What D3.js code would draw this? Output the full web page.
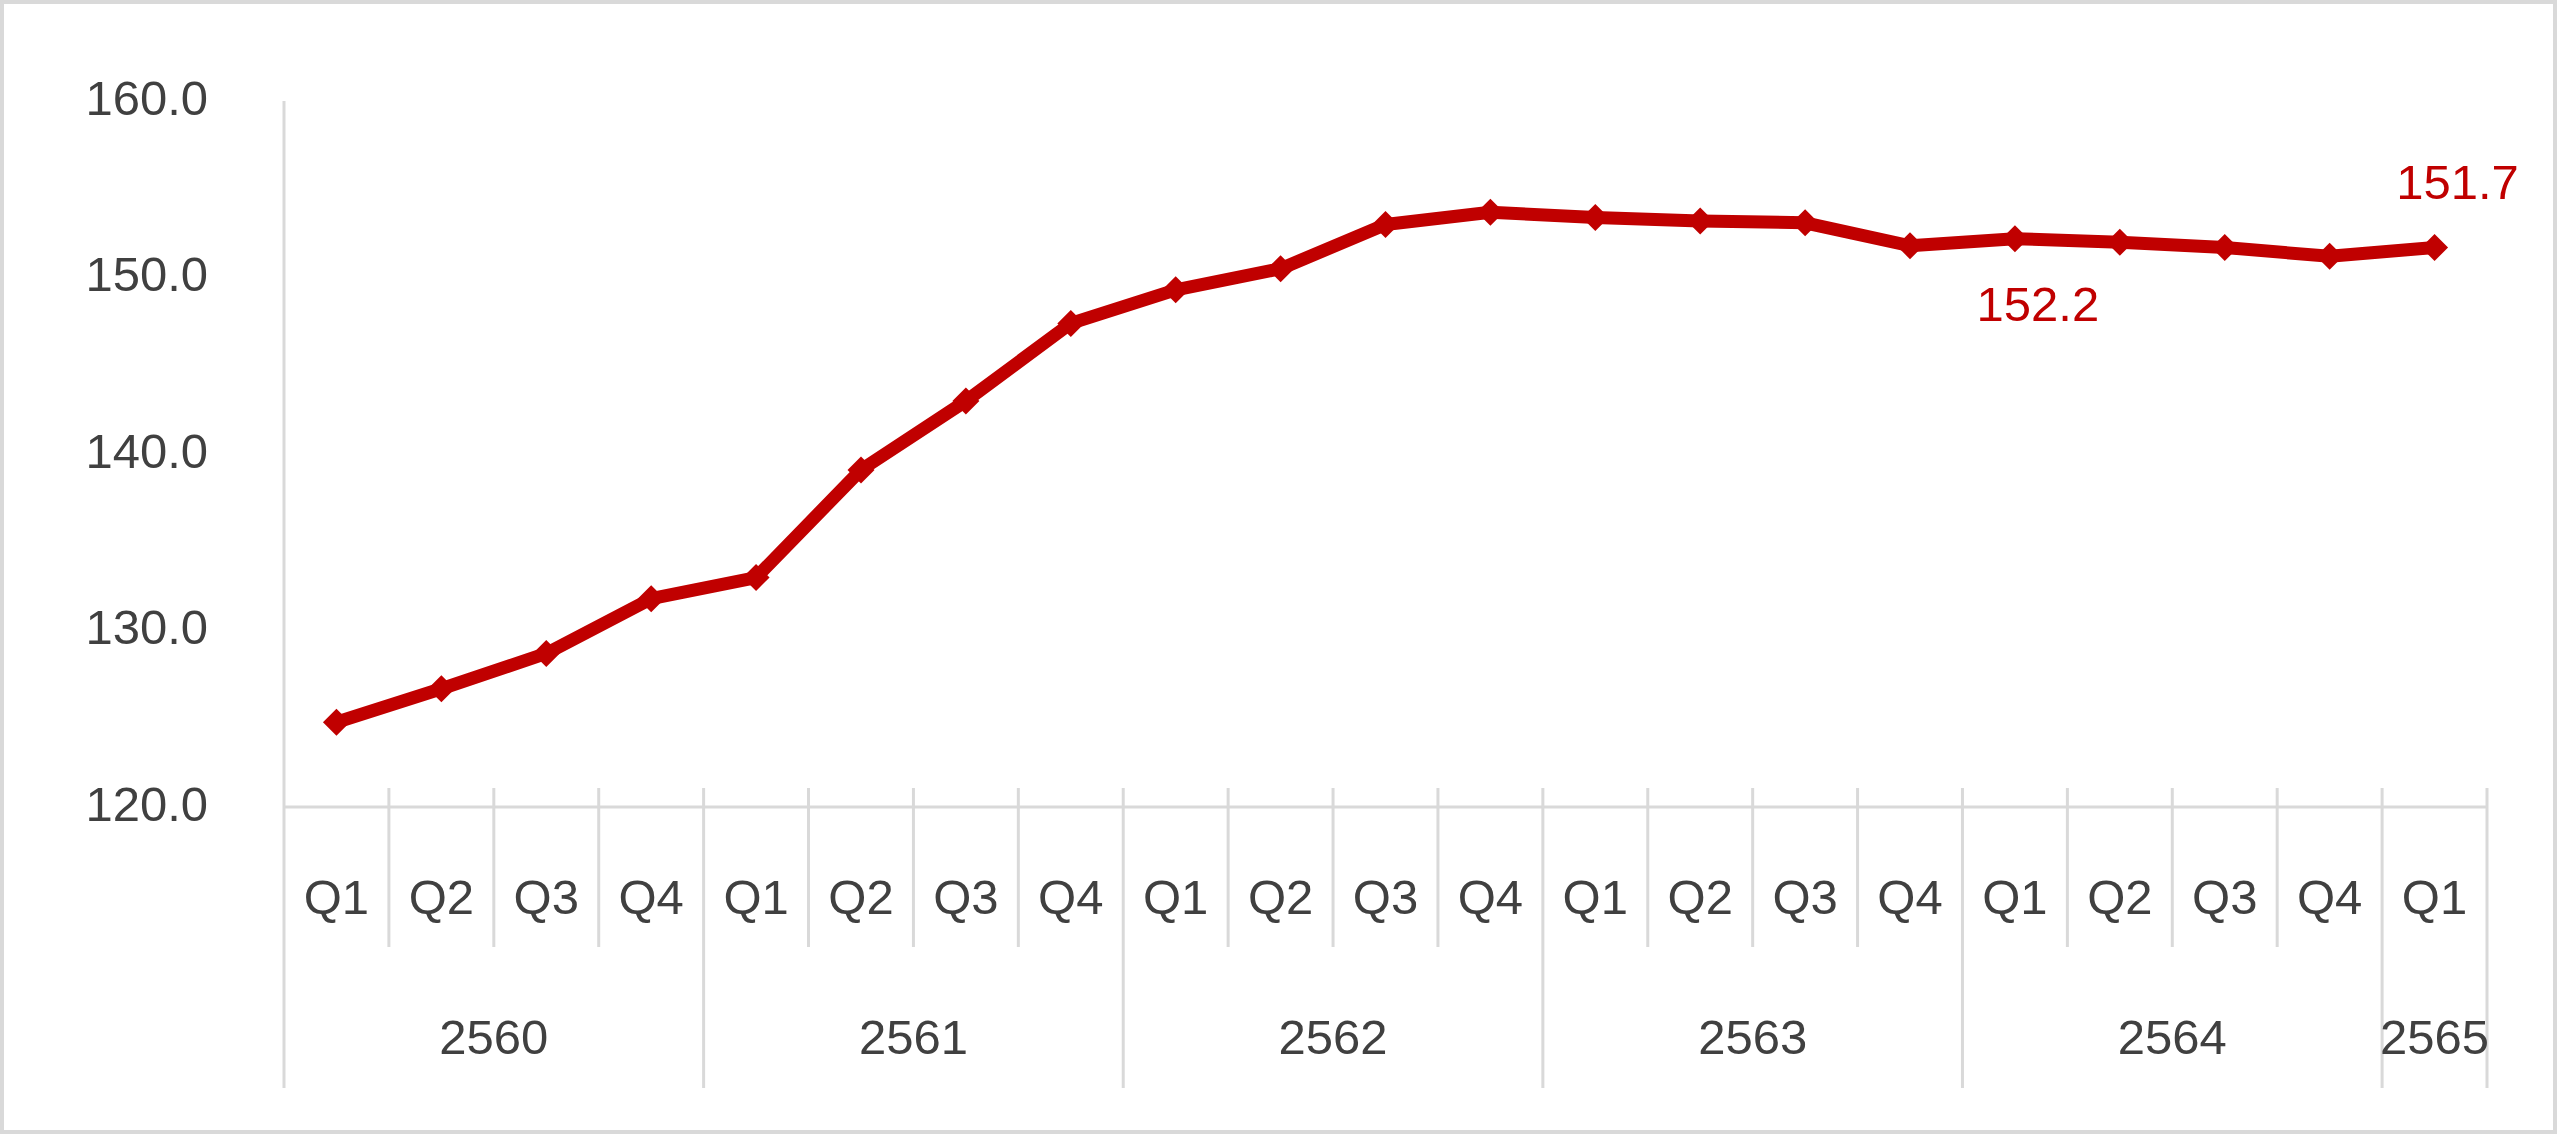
<!DOCTYPE html>
<html><head><meta charset="utf-8">
<script src="https://cdn.jsdelivr.net/npm/d3@7"></script>
<style>html,body{margin:0;padding:0;background:#fff;overflow:hidden;} svg{display:block;}</style>
</head><body>
<svg id="chart" width="2560" height="1136"></svg>
<script>
// ---- data ----
const quarters = ["Q1","Q2","Q3","Q4","Q1","Q2","Q3","Q4","Q1","Q2","Q3","Q4","Q1","Q2","Q3","Q4","Q1","Q2","Q3","Q4","Q1"];
const years = ["2560","2560","2560","2560","2561","2561","2561","2561","2562","2562","2562","2562","2563","2563","2563","2563","2564","2564","2564","2564","2565"];
const values = [124.8,126.7,128.7,131.8,133.0,139.1,143.0,147.4,149.3,150.5,153.0,153.7,153.4,153.2,153.1,151.8,152.2,152.0,151.7,151.2,151.7];
const yTicks = [120,130,140,150,160];
const labelledIndex = [16, 20];
const labelPlacement = ["below","above"];

// ---- layout ----
const W = 2560, H = 1136;
const plotLeft = 284, plotRight = 2487, plotTop = 101, plotBottom = 807;
const gridColor = "#d9d9d9", textColor = "#404040", lineColor = "#C00000";
const font = "'Liberation Sans', Arial, sans-serif";
const fs = 49;

const svg = d3.select("#chart");
svg.append("rect").attr("x",0).attr("y",0).attr("width",W).attr("height",H).attr("fill","#fff");
svg.append("rect").attr("x",2).attr("y",2).attr("width",2553).attr("height",1130)
  .attr("fill","none").attr("stroke",gridColor).attr("stroke-width",4);

const idx = d3.range(values.length);
const x = d3.scaleBand().domain(idx).range([plotLeft,plotRight]).paddingInner(0).paddingOuter(0);
const y = d3.scaleLinear().domain([120,160]).range([plotBottom, plotTop]);

// y axis labels
const yAxis = d3.axisLeft(y).tickValues(yTicks).tickFormat(d3.format(".1f")).tickSize(0).tickPadding(76);
const gy = svg.append("g").attr("transform",`translate(${plotLeft},0)`).call(yAxis);
gy.select(".domain").remove();
gy.selectAll("text").attr("fill",textColor).style("font-family",font).style("font-size",fs+"px").attr("dy","0.27em");

// y axis line
svg.append("line").attr("x1",plotLeft).attr("x2",plotLeft).attr("y1",y(160)).attr("y2",1088)
  .attr("stroke",gridColor).attr("stroke-width",3);
// x axis line
svg.append("line").attr("x1",plotLeft).attr("x2",plotRight).attr("y1",y(120)).attr("y2",y(120))
  .attr("stroke",gridColor).attr("stroke-width",3);

// category separators
const tickTop = 788, qBottom = 947, yBottom = 1088;
const boundaries = d3.range(1, values.length+1);
boundaries.forEach(k => {
  const xb = k < values.length ? x(k) : x(k-1) + x.bandwidth();
  const isYear = k === values.length || years[k] !== years[k-1];
  svg.append("line").attr("x1",xb).attr("x2",xb).attr("y1",tickTop).attr("y2",isYear?yBottom:qBottom)
    .attr("stroke",gridColor).attr("stroke-width",3);
});

// quarter labels
svg.append("g").selectAll("text").data(idx).join("text")
  .attr("x", i => x(i) + x.bandwidth()/2).attr("y", 897).attr("dy","0.35em")
  .attr("text-anchor","middle").attr("fill",textColor)
  .style("font-family",font).style("font-size",fs+"px").text(i => quarters[i]);

// year labels
const yearGroups = d3.groups(idx, i => years[i]);
svg.append("g").selectAll("text").data(yearGroups).join("text")
  .attr("x", d => (x(d[1][0]) + x(d[1][d[1].length-1]) + x.bandwidth())/2)
  .attr("y", 1037).attr("dy","0.35em")
  .attr("text-anchor","middle").attr("fill",textColor)
  .style("font-family",font).style("font-size",fs+"px").text(d => d[0]);

// line
const line = d3.line().x(i => x(i) + x.bandwidth()/2).y(i => y(values[i]));
svg.append("path").datum(idx).attr("d",line).attr("fill","none")
  .attr("stroke",lineColor).attr("stroke-width",13).attr("stroke-linejoin","round");

// markers
const r = 13.5;
svg.append("g").selectAll("path").data(idx).join("path")
  .attr("transform", i => `translate(${x(i)+x.bandwidth()/2},${y(values[i])})`)
  .attr("d", `M0,${-r}L${r},0L0,${r}L${-r},0Z`).attr("fill",lineColor);

// data labels
svg.append("g").selectAll("text").data(labelledIndex).join("text")
  .attr("x", i => x(i) + x.bandwidth()/2 + 23)
  .attr("y", (i,k) => y(values[i]) + (labelPlacement[k]==="below" ? 65 : -66))
  .attr("dy","0.35em").attr("text-anchor","middle").attr("fill",lineColor)
  .style("font-family",font).style("font-size",fs+"px")
  .text(i => values[i].toFixed(1));
</script>
</body></html>
